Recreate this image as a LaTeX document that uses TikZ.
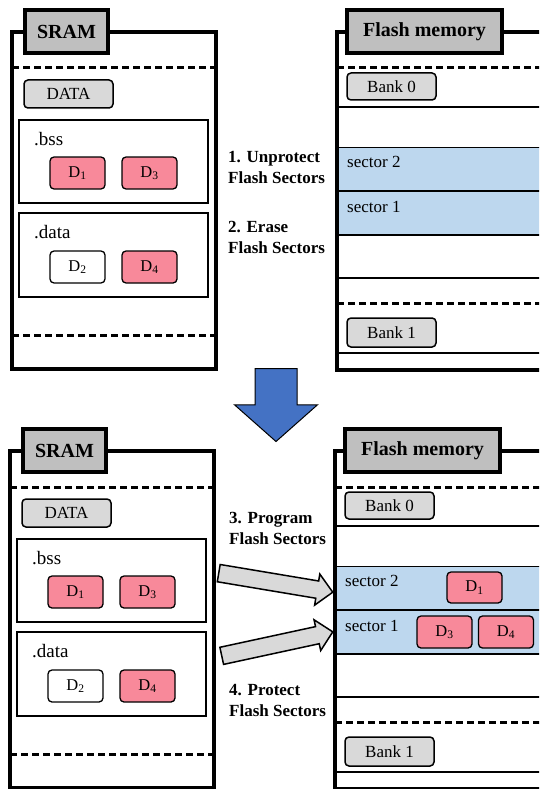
\documentclass[tikz,border=0pt]{standalone}
\usepackage{fontspec}
\setmainfont{Liberation Serif}
\usetikzlibrary{shapes.arrows}
\definecolor{labgray}{HTML}{BFBFBF}
\definecolor{boxgray}{HTML}{D9D9D9}
\definecolor{dpink}{HTML}{F8899A}
\definecolor{secblue}{HTML}{BDD7EE}
\definecolor{arrblue}{HTML}{4472C4}
\tikzset{
  x=1pt, y=-1pt,
  outerline/.style={line width=4pt},
  dashline/.style={line width=3pt, dash pattern=on 7pt off 4pt},
  rowline/.style={line width=2.7pt},
  titlebox/.style={draw, line width=3.5pt, fill=labgray, font=\fontsize{20}{24}\selectfont\bfseries, inner sep=0pt},
  graybox/.style={draw, line width=1.5pt, fill=boxgray, rounded corners=4pt, inner sep=0pt, font=\fontsize{17}{20}\selectfont},
  secbox/.style={draw, line width=2pt},
  dbox/.style={draw, line width=1.3pt, rounded corners=4pt, minimum width=55pt, minimum height=32pt, inner sep=0pt, font=\fontsize{16.5}{19}\selectfont},
  steptext/.style={font=\fontsize{17}{21}\selectfont\bfseries, align=left, anchor=west, inner sep=0pt},
  seclabel/.style={font=\fontsize{19}{22}\selectfont, anchor=west, inner sep=0pt},
  sectorlabel/.style={font=\fontsize{17}{20}\selectfont, anchor=west, inner sep=0pt},
  grayarrow/.style={single arrow, draw, line width=1.5pt, fill=boxgray, inner xsep=0pt, inner ysep=8pt, minimum width=30pt, single arrow head extend=7pt, anchor=tail},
}
\newcommand\mempanel[1]{%
  % SRAM
  \draw[outerline] (12,32) rectangle (216,368.5);
  \draw[dashline] (12,68) -- (216,68);
  \draw[dashline] (12,335) -- (216,335);
  \node[titlebox, minimum width=83pt, minimum height=43pt] (#1sram) at (66.5,31.5) {SRAM};
  \node[graybox, minimum width=89pt, minimum height=28pt] (#1data) at (68.5,94) {DATA};
  \node[secbox, minimum width=189pt, minimum height=83pt] (#1bss) at (113.5,161.5) {};
  \node[seclabel] (#1bsslab) at (34,139) {.bss};
  \node[dbox, fill=dpink] (#1da) at (77.5,173) {D\textsubscript{1}};
  \node[dbox, fill=dpink] (#1dc) at (149.5,173) {D\textsubscript{3}};
  \node[secbox, minimum width=189pt, minimum height=84pt] (#1dat) at (113.5,255) {};
  \node[seclabel] (#1datlab) at (34,232) {.data};
  \node[dbox, fill=white] (#1db) at (77.5,267) {D\textsubscript{2}};
  \node[dbox, fill=dpink] (#1dd) at (149.5,267) {D\textsubscript{4}};
  % Flash
  \fill[secblue] (337,147) rectangle (545,235);
  \draw[line width=1pt] (337,147) -- (545,147);
  \draw[rowline] (337,107) -- (545,107);
  \draw[rowline] (337,191) -- (545,191);
  \draw[rowline] (337,235) -- (545,235);
  \draw[rowline] (337,278) -- (545,278);
  \draw[rowline] (337,353) -- (545,353);
  \draw[dashline] (337,68) -- (545,68);
  \draw[dashline] (337,303) -- (545,303);
  \draw[outerline] (545,32) -- (337,32) -- (337,370) -- (545,370);
  \node[titlebox, minimum width=155pt, minimum height=43pt] (#1flash) at (424.5,31.5) {Flash memory};
  \node[graybox, minimum width=89pt, minimum height=27pt] (#1bank0) at (391.5,86.5) {Bank 0};
  \node[graybox, minimum width=89pt, minimum height=29pt] (#1bank1) at (391.5,332.5) {Bank 1};
  \node[sectorlabel] (#1sec2) at (347,162) {sector 2};
  \node[sectorlabel] (#1sec1) at (347,207) {sector 1};
}
\begin{document}
\begin{tikzpicture}
\path[use as bounding box] (0,0) rectangle (539,789);
\clip (0,0) rectangle (539,789);
\fill[white] (0,0) rectangle (539,789);
\mempanel{t}
\begin{scope}[shift={(-2,419)}]
\mempanel{b}
\end{scope}
% step labels
\node[steptext] (s1) at (228,167.5) {1. Unprotect\\Flash Sectors};
\node[steptext] (s2) at (228,237.5) {2. Erase\\Flash Sectors};
\node[steptext] (s3) at (229,528) {3. Program\\Flash Sectors};
\node[steptext] (s4) at (229,700) {4. Protect\\Flash Sectors};
% big arrow
\node[single arrow, draw, line width=1pt, fill=arrblue, inner xsep=0pt, inner ysep=20.5pt,
      minimum width=82pt, single arrow head extend=20.5pt, single arrow tip angle=97,
      minimum height=73pt, rotate=-90, anchor=tail] (down) at (276,368) {};
% flash data after programming
\node[dbox, fill=dpink, minimum height=31pt] (fd1) at (474.5,587.5) {D\textsubscript{1}};
\node[dbox, fill=dpink] (fd3) at (444.5,632) {D\textsubscript{3}};
\node[dbox, fill=dpink] (fd4) at (506,632) {D\textsubscript{4}};
% gray arrows
\coordinate (g1s) at (218,573);
\coordinate (g2s) at (221,656);
\node[grayarrow, minimum height=115.6pt, rotate=-9.5] (ga1) at (g1s) {};
\node[grayarrow, minimum height=113.6pt, rotate=12.2] (ga2) at (g2s) {};
\end{tikzpicture}
\end{document}
